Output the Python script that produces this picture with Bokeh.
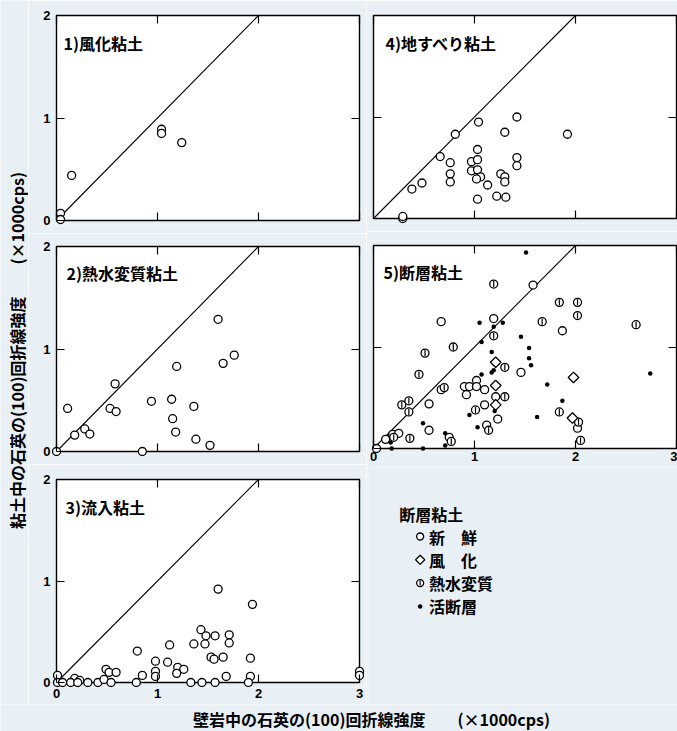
import numpy as np
from bokeh.plotting import figure
from bokeh.layouts import row, column
from bokeh.models import Range1d, LinearAxis, FixedTicker, Label
from bokeh.core.properties import value
from bokeh.embed import file_html
from bokeh.resources import INLINE

# ---------------- data ----------------
x_ticks = [0, 1, 2, 3]
y_ticks = [0, 1, 2]
x_tick_labels = ["0", "1", "2", "3"]
y_tick_labels = ["0", "1", "2"]
diag_x = [0, 2]
diag_y = [0, 2]

x_title = "壁岩中の石英の(100)回折線強度　　(×1000cps)"
y_title = "粘土中の石英の(100)回折線強度　　(×1000cps)"

t1 = "1)風化粘土"
x1 = [0.15, 1.04, 1.04, 1.24, 0.04, 0.04]
y1 = [0.44, 0.89, 0.85, 0.76, 0.07, 0.01]

t2 = "2)熱水変質粘土"
x2 = [1.60, 1.76, 1.65, 1.19, 0.58, 0.11, 0.53, 0.59, 0.94, 1.14,
      1.36, 1.15, 1.18, 1.38, 1.52, 0.18, 0.28, 0.33, 0.00, 0.85]
y2 = [1.29, 0.94, 0.86, 0.83, 0.66, 0.42, 0.42, 0.39, 0.49, 0.51,
      0.44, 0.32, 0.19, 0.12, 0.06, 0.16, 0.22, 0.17, 0.00, 0.00]

t3 = "3)流入粘土"
x3 = [1.60, 1.94, 1.43, 1.48, 1.57, 1.71, 1.71, 1.36, 1.47, 1.12,
      0.80, 0.98, 1.10, 1.53, 1.56, 1.65, 1.92, 1.20, 1.26, 1.19,
      0.98, 0.98, 0.49, 0.52, 0.59, 0.85, 1.68, 1.92, 3.00, 3.00,
      0.01, 0.18, 0.23,
      0.01, 0.06, 0.14, 0.21, 0.31, 0.41, 0.47, 0.54, 0.79, 1.33,
      1.44, 1.57, 1.90]
y3 = [0.92, 0.77, 0.52, 0.46, 0.46, 0.47, 0.39, 0.38, 0.38, 0.37,
      0.31, 0.21, 0.20, 0.25, 0.23, 0.25, 0.24, 0.15, 0.13, 0.09,
      0.11, 0.06, 0.13, 0.10, 0.10, 0.07, 0.06, 0.06, 0.11, 0.07,
      0.07, 0.04, 0.02,
      0.00, 0.00, 0.00, 0.00, 0.00, 0.00, 0.03, 0.00, 0.00, 0.00,
      0.00, 0.00, 0.00]

t4 = "4)地すべり粘土"
x4 = [1.04, 1.42, 0.81, 1.30, 1.92, 0.66, 1.03, 0.76, 0.97, 1.03,
      1.42, 1.42, 0.76, 0.76, 0.97, 1.03, 1.06, 1.02, 1.13, 1.26,
      1.30, 1.30, 0.48, 0.38, 1.03, 1.22, 1.31, 0.29, 0.29]
y4 = [0.95, 1.00, 0.83, 0.85, 0.83, 0.61, 0.68, 0.55, 0.56, 0.58,
      0.60, 0.52, 0.44, 0.36, 0.47, 0.48, 0.41, 0.39, 0.33, 0.44,
      0.41, 0.36, 0.35, 0.29, 0.19, 0.22, 0.21, 0.00, 0.02]

t5 = "5)断層粘土"
x5_fresh = [1.19, 0.67, 0.67, 0.90, 0.95, 1.02, 1.02, 0.92, 1.10, 1.21,
            1.10, 1.23, 1.12, 0.55, 0.55, 0.75, 0.03, 0.12, 0.19, 0.25,
            1.46, 1.58, 1.87, 2.02]
y5_fresh = [1.28, 1.25, 0.58, 0.61, 0.61, 0.67, 0.61, 0.53, 0.58, 0.51,
            0.43, 0.29, 0.23, 0.44, 0.18, 0.11, 0.00, 0.09, 0.14, 0.15,
            0.75, 1.61, 1.16, 0.20]
x5_weath = [1.21, 1.21, 1.21, 1.98, 1.97]
y5_weath = [0.85, 0.62, 0.43, 0.70, 0.30]
x5_hydro = [1.19, 1.19, 0.79, 0.51, 0.45, 0.70, 1.30, 1.30, 1.01, 1.14,
            0.28, 0.35, 0.35, 0.77, 0.20, 0.36, 1.84, 2.02, 2.02, 1.67,
            2.60, 1.84, 2.03, 2.05]
y5_hydro = [1.62, 1.11, 1.00, 0.94, 0.73, 0.60, 0.80, 0.51, 0.38, 0.18,
            0.43, 0.47, 0.36, 0.07, 0.11, 0.10, 1.44, 1.44, 1.31, 1.25,
            1.22, 0.36, 0.26, 0.08]
x5_active = [1.51, 1.05, 1.28, 1.19, 1.07, 1.17, 1.46, 1.54, 1.54, 1.56,
             1.19, 1.17, 1.07, 0.95, 1.20, 1.03, 0.49, 0.71, 0.71, 0.17,
             0.18, 0.49, 2.74, 1.72, 1.87, 1.62]
y5_active = [1.93, 1.24, 1.24, 1.20, 1.05, 0.95, 1.10, 0.99, 0.89, 0.82,
             0.77, 0.75, 0.73, 0.33, 0.37, 0.21, 0.25, 0.15, 0.03, 0.06,
             0.00, 0.00, 0.74, 0.63, 0.47, 0.31]

legend_title = "断層粘土"
legend_labels = ["新　鮮", "風　化", "熱水変質", "活断層"]

# ---------------- style ----------------
BG = "#e8f0f5"
CJK = "Noto Sans CJK JP"
NUM = "Liberation Sans"
XMAX, YMAX = 3, 2
MK = 8
LW = 1.3


def tick_axis(p, side, ticks, loc):
    ax = LinearAxis(ticker=FixedTicker(ticks=ticks), fixed_location=loc,
                    axis_line_color=None, major_tick_in=8, major_tick_out=0,
                    minor_tick_line_color=None, major_tick_line_width=1.2,
                    major_tick_line_color="black",
                    major_label_text_font_size="1px",
                    major_label_text_color=None, major_label_standoff=0,
                    major_label_overrides={t: "" for t in ticks})
    p.add_layout(ax, side)


def label_axis(p, side, ticks, labels, standoff):
    ax = LinearAxis(ticker=FixedTicker(ticks=ticks),
                    axis_line_color=None, major_tick_line_color=None,
                    minor_tick_line_color=None, major_tick_in=0, major_tick_out=0,
                    major_label_standoff=standoff,
                    major_label_text_font=NUM, major_label_text_font_size="13px",
                    major_label_text_font_style="bold",
                    major_label_text_color="black",
                    major_label_overrides=dict(zip(ticks, labels)))
    p.add_layout(ax, side)


def panel(title, title_xy, fig_w, fig_h, borders, pads, box_w, box_h,
          ylabels=False, xlabels=None):
    bl, br, bt, bb = borders
    pl, pr, pt, pb = pads
    ux = box_w / XMAX
    uy = box_h / YMAX
    p = figure(width=fig_w, height=fig_h,
               x_range=Range1d(-pl / ux, XMAX + pr / ux),
               y_range=Range1d(-pb / uy, YMAX + pt / uy),
               toolbar_location=None, output_backend="svg", title=None,
               x_axis_location=None, y_axis_location=None,
               min_border_left=bl, min_border_right=br,
               min_border_top=bt, min_border_bottom=bb,
               background_fill_color=BG, border_fill_color=BG,
               outline_line_color=None)
    p.grid.visible = False
    p.quad(left=[0], right=[XMAX], bottom=[0], top=[YMAX],
           fill_color="white", line_color="black", line_width=1.4,
           level="image")
    p.line(diag_x, diag_y, line_color="black", line_width=1.1)
    tick_axis(p, "below", x_ticks, 0)
    tick_axis(p, "above", x_ticks, YMAX)
    tick_axis(p, "left", y_ticks, 0)
    tick_axis(p, "right", y_ticks, XMAX)
    if ylabels:
        label_axis(p, "left", y_ticks, y_tick_labels, 1)
    if xlabels is not None:
        label_axis(p, "below", x_ticks, x_tick_labels, xlabels)
    p.add_layout(Label(x=title_xy[0], y=title_xy[1], text=title,
                       text_font=CJK, text_font_size="16px",
                       text_font_style="bold", text_baseline="middle",
                       text_color="black"))
    return p


def open_pts(p, xs, ys, size=MK):
    p.scatter(xs, ys, marker="circle", size=size, fill_color="white",
              line_color="black", line_width=LW)


def barred_pts(p, xs, ys, size=MK):
    p.scatter(xs, ys, marker="circle", size=size, fill_color="white",
              line_color="black", line_width=LW)
    p.scatter(xs, ys, marker="dash", angle=np.pi / 2, size=size - 2,
              line_color="black", line_width=1.2)


def diamond_pts(p, xs, ys, size=7.5):
    p.scatter(xs, ys, marker="square", angle=np.pi / 4, size=size,
              fill_color="white", line_color="black", line_width=LW)


def dot_pts(p, xs, ys, size=4.5):
    p.scatter(xs, ys, marker="circle", size=size, fill_color="black",
              line_color=None)


YW = 28
LW_FIG = 338
RW_FIG = 311

# left column (page coords: boxes at x 56-359)
p1 = panel(t1, (0.07, 1.73), LW_FIG, 233, (23, 2, 12, 8), (5, 5, 3, 5), 303, 205,
           ylabels=True)
open_pts(p1, x1, y1)

p2 = panel(t2, (0.10, 1.74), LW_FIG, 231, (23, 2, 8, 8), (5, 5, 5, 5), 303, 205,
           ylabels=True)
open_pts(p2, x2, y2)

p3 = panel(t3, (0.09, 1.73), LW_FIG, 240, (23, 2, 10, 17), (5, 5, 5, 5), 303, 203,
           ylabels=True, xlabels=1)
open_pts(p3, x3, y3)

# right column (boxes at x 373-676)
p4 = panel(t4, (0.12, 1.73), RW_FIG, 231, (2, 0, 12, 8), (5, 1, 3, 5), 303, 203)
open_pts(p4, x4, y4)

p5 = panel(t5, (0.10, 1.74), RW_FIG, 236, (2, 0, 9, 14), (5, 1, 5, 5), 303, 203,
           xlabels=-2)
open_pts(p5, x5_fresh, y5_fresh)
barred_pts(p5, x5_hydro, y5_hydro)
diamond_pts(p5, x5_weath, y5_weath)
dot_pts(p5, x5_active, y5_active)

# legend cell
LEG_H = 237
leg = figure(width=RW_FIG, height=LEG_H, x_range=Range1d(0, RW_FIG),
             y_range=Range1d(0, LEG_H), toolbar_location=None,
             output_backend="svg", title=None, x_axis_location=None,
             y_axis_location=None, min_border=0, outline_line_color=None,
             background_fill_color=BG, border_fill_color=BG)
leg.grid.visible = False
leg.text(x=[31], y=[LEG_H - 46], text=[legend_title], text_font=value(CJK),
         text_font_size=value("16px"), text_font_style="bold",
         text_baseline="middle", text_align="left", text_color="black")
item_y = [LEG_H - (69 + 23.3 * i) for i in range(len(legend_labels))]
leg.text(x=[61] * len(legend_labels), y=item_y, text=legend_labels,
         text_font=value(CJK), text_font_size=value("16px"),
         text_font_style="bold", text_baseline="middle", text_align="left",
         text_color="black")
open_pts(leg, [52], [item_y[0]], size=7)
diamond_pts(leg, [52], [item_y[1]], size=6.5)
barred_pts(leg, [52], [item_y[2]], size=7)
dot_pts(leg, [52], [item_y[3]], size=4.5)

# y title
GRID_H = 704
yfig = figure(width=YW, height=GRID_H, x_range=Range1d(0, YW),
              y_range=Range1d(0, GRID_H), toolbar_location=None,
              output_backend="svg", title=None, x_axis_location=None,
              y_axis_location=None, min_border=0, outline_line_color=None,
              background_fill_color=BG, border_fill_color=BG)
yfig.grid.visible = False
yfig.text(x=[16], y=[GRID_H - 350], text=[y_title], angle=np.pi / 2,
          text_font=value(CJK), text_font_size=value("16px"),
          text_font_style="bold", text_align="center", text_baseline="middle",
          text_color="black")

# x title
XH = 27
XW = YW + LW_FIG + RW_FIG
xfig = figure(width=XW, height=XH, x_range=Range1d(0, XW),
              y_range=Range1d(0, XH), toolbar_location=None,
              output_backend="svg", title=None, x_axis_location=None,
              y_axis_location=None, min_border=0, outline_line_color=None,
              background_fill_color=BG, border_fill_color=BG)
xfig.grid.visible = False
xfig.text(x=[371], y=[XH - 14], text=[x_title], text_font=value(CJK),
          text_font_size=value("16px"), text_font_style="bold",
          text_align="center", text_baseline="middle", text_color="black")

layout = column(row(yfig, column(p1, p2, p3), column(p4, p5, leg)), xfig)

open("out.html", "w").write(file_html(layout, INLINE))
